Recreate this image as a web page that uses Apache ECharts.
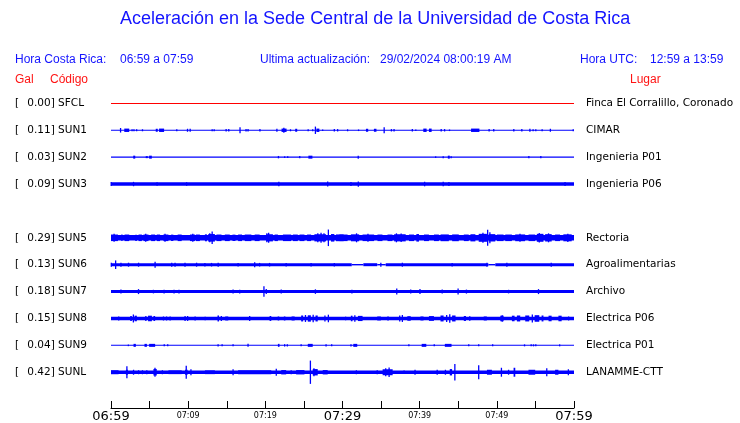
<!DOCTYPE html>
<html>
<head>
<meta charset="utf-8">
<script src="https://cdn.jsdelivr.net/npm/echarts@6/dist/echarts.min.js"></script>
<style>html,body{margin:0;padding:0;background:#fff}#c{width:740px;height:423px}</style>
</head>
<body>
<div id="c"></div>
<script>
// ---------------- data ----------------
const stations = ['SFCL','SUN1','SUN2','SUN3','SUN5','SUN6','SUN7','SUN8','SUN9','SUNL'];
const pga      = ['0.00','0.11','0.03','0.09','0.29','0.13','0.18','0.15','0.04','0.42'];
const places   = ['Finca El Corralillo, Coronado','CIMAR','Ingenieria P01','Ingenieria P06','Rectoria','Agroalimentarias','Archivo','Electrica P06','Electrica P01','LANAMME-CTT'];
const rowIndex = [0,1,2,3,5,6,7,8,9,10];
const timeLabels  = ['06:59','07:09','07:19','07:29','07:39','07:49','07:59'];
const majorLabels = ['06:59','07:29','07:59'];
// trace envelopes: [start minute, end minute, half amplitude (counts)]
const sfcl = [[0,60,0.5]];
const sun1 = [[0,60,0.6],[1.24,1.24,2.3],[1.72,2.36,1.7],[2.71,2.75,1],[2.95,3.0,1],[3.3,3.35,1],[4.08,4.08,1],[5.8,6.06,1.5],[6.23,6.88,1.7],[8.45,8.6,1],[9.88,9.95,1.5],[10.2,10.32,1.5],[13.11,13.11,1],[13.37,13.37,1],[14.92,14.92,1.2],[15.26,15.26,1.2],[16.72,16.72,3],[17.5,17.5,1.2],[17.76,17.76,1.2],[19.3,19.3,1.2],[21.5,21.5,1.5],[22.1,22.75,1.7],[22.4,22.4,2.5],[23.26,23.26,1],[23.87,24.13,1.5],[25.55,25.55,1],[26.14,26.14,1],[26.49,26.49,3.7],[26.62,27.0,1.7],[27.43,27.43,0.8],[28.94,28.94,1.2],[29.37,29.37,1.2],[30.66,30.66,1],[32.08,32.08,0.8],[33.04,33.33,1.5],[34.07,34.4,1.5],[35.4,35.4,3],[36.34,36.34,1.2],[36.68,36.68,1.2],[39.05,39.05,1.2],[39.5,39.5,0.8],[40.47,40.9,1.7],[41.2,41.55,1.7],[42.79,42.79,1.2],[43.23,43.23,1.2],[43.87,43.87,0.8],[46.66,47.74,1.7],[49.0,49.0,1.2],[49.6,49.6,1.2],[52.2,52.2,1.2],[53.24,53.24,1.2],[54.2,54.37,1.5],[54.7,54.7,1],[55.05,55.05,1],[55.87,55.87,1],[56.94,56.94,1.5],[59.9,59.9,1]];
const sun2 = [[0,60,0.6],[2.88,3.14,1.5],[4.5,4.77,1],[4.94,5.29,1.5],[21.7,21.7,1.2],[22.5,22.5,0.8],[22.9,22.9,0.8],[24.46,24.46,1.2],[25.58,26.1,1.5],[32.04,32.04,1.5],[42.07,42.07,0.8],[43.05,43.05,1],[43.65,43.9,1.5],[44.08,44.08,1],[54.15,54.15,1.2],[55.7,55.7,1.2]];
const sun3 = [[0,60,1.7],[0,0.05,2],[2.92,2.92,2.2],[5.97,5.97,1.8],[9.8,9.8,1.8],[21.75,21.75,2.3],[28.08,28.08,2.5],[31.1,31.1,2],[32.0,32.1,2.6],[40.64,40.64,2.3],[43.05,43.05,2.2],[43.79,43.79,2],[58.84,58.84,2]];
const sun5 = [[0,60,2.8],[0,0.9,3.3],[0.4,0.4,4],[1.33,1.5,3.3],[1.76,2.36,3.3],[3.14,3.35,3.2],[3.57,4.0,3.3],[4.21,4.86,3.3],[4.5,4.5,4],[5.2,5.72,3.3],[5.93,6.36,3.3],[6.79,7.44,3.3],[7.0,7.0,4],[7.78,8.08,3.2],[8.64,9.16,3.3],[10.23,10.88,3.3],[10.6,10.6,4],[11.0,11.52,3.3],[12.17,12.43,3.5],[12.6,13.46,3.8],[13.11,13.11,6.3],[12.8,12.8,4.5],[13.67,14.32,3.3],[14.75,15.39,3.3],[15.74,16.13,3.2],[16.47,16.98,3.3],[17.33,18.19,3.3],[18.62,19.26,3.3],[20.12,20.98,3.6],[20.43,20.43,5],[20.2,20.2,4.5],[21.2,21.63,3.3],[22.28,23.35,3.3],[23.57,24.21,3.3],[24.43,25.07,3.3],[25.41,25.93,3.3],[26.36,27.87,3.6],[27.22,27.22,5],[26.8,26.8,4.5],[27.6,27.6,4.5],[28.17,28.17,8.3],[28.51,28.94,3.8],[29.16,30.15,3.4],[29.59,30.66,3.3],[31.09,32.16,3.5],[31.82,31.82,4.5],[32.6,34.1,3.3],[33.3,33.3,4],[34.53,35.18,3.3],[35.83,36.47,3.3],[36.69,38.19,3.6],[36.99,36.99,4.5],[37.6,37.6,4.3],[38.62,39.27,3.3],[39.57,39.91,3.8],[40.56,41.2,3.3],[41.85,42.49,3.3],[42.71,43.78,3.4],[44.21,45.07,3.4],[45.72,46.36,3.3],[46.58,47.22,3.6],[47.65,48.72,4],[48.2,48.2,5],[48.81,48.81,8],[49.1,49.1,5.5],[48.94,49.8,3.7],[50.01,50.87,3.3],[51.09,51.95,3.3],[52.38,53.67,3.4],[53.0,53.0,4],[54.11,54.97,3.3],[55.18,56.04,4],[55.5,55.5,4.8],[56.26,57.11,3.7],[56.7,56.7,4.5],[57.55,58.19,3.3],[58.62,59.7,3.5],[59.2,59.2,4.2]];
const sun6 = [[0,31.2,1.5],[31.2,32.7,0.7],[32.7,34.5,1.5],[34.5,35.6,0.7],[35.6,48.9,1.5],[48.9,49.8,0.7],[49.8,60,1.5],[0.04,0.04,2],[0.6,0.6,4.3],[1.29,1.29,2],[2.27,2.27,2],[3.57,3.57,2],[5.63,5.8,3],[7.87,7.87,2],[8.3,8.3,2],[9.59,9.59,2],[11.09,11.09,2],[12.17,12.17,1.8],[13.03,13.03,1.8],[13.89,13.89,2],[16.47,16.47,1.8],[18.62,18.62,2.5],[19.26,19.26,1.8],[20.55,20.55,1.8],[22.7,22.7,1.8],[25.93,25.93,1.8],[28.94,28.94,1.8],[34.97,34.97,2],[37.76,37.76,2],[44.21,44.21,1.8],[48.72,48.72,2],[51.3,51.3,2],[57.05,57.05,2]];
const sun7 = [[0,60,1.5],[1.29,1.29,2],[3.48,3.65,2.5],[5.5,5.5,1.8],[6.88,6.88,1.8],[8.17,8.17,1.8],[8.81,8.81,1.8],[15.82,15.82,2],[16.68,16.68,1.8],[19.82,19.82,5.3],[20.12,20.12,2.5],[22.06,22.06,2],[26.49,26.49,2.3],[31.22,31.22,1.8],[37.03,37.03,3],[38.84,38.84,2],[40.04,40.04,2.5],[42.92,42.92,2],[44.98,44.98,3],[46.06,46.06,2],[51.52,51.52,1.8],[55.4,55.4,2.5]];
const sun8 = [[0,60,1.7],[1.0,1.0,2],[2.49,2.7,2.5],[2.9,2.9,4],[3.05,3.35,2.8],[4.43,4.6,2.5],[4.8,5.3,2.8],[5.5,5.72,2.5],[6.8,6.8,2],[7.2,7.2,2],[7.66,7.66,2],[9.6,9.6,2.5],[9.93,9.93,2.5],[10.9,10.9,2],[12.2,12.2,1.8],[13.8,14.0,3],[14.3,14.3,2.5],[14.8,15.2,2],[17.97,17.97,2.5],[20.55,20.77,2.5],[21.6,21.8,2],[22.4,22.6,2],[23.4,23.8,2],[24.64,24.9,3],[25.2,25.2,3.5],[25.5,25.9,3.2],[26.2,26.2,3.8],[26.5,26.79,3],[27.65,27.8,3],[28.17,28.17,3.8],[30.4,30.4,1.8],[31.08,31.3,2.8],[31.6,31.6,3.2],[32.0,32.6,2.6],[34.5,34.97,2],[35.8,36.0,2],[37.33,37.5,3],[37.76,37.76,3.5],[38.4,38.84,2.3],[40.1,40.5,2],[41.2,41.85,2.4],[42.7,43.1,3],[43.5,43.5,3.5],[43.9,43.9,4.3],[44.2,44.65,3],[45.72,46.0,2.5],[46.4,46.58,2.3],[48.3,48.7,2],[50.45,50.88,2.8],[50.7,50.7,3.3],[51.95,52.3,2.8],[52.6,53.03,3],[53.68,54.2,3],[54.6,54.6,4],[54.9,55.5,3.3],[55.8,56.04,3],[56.7,57.1,2.8],[57.98,58.4,2.8],[59.3,59.3,2]];
const sun9 = [[0,60,0.5],[2.25,2.25,0.8],[2.92,3.22,1.5],[4.34,4.65,1.5],[4.94,5.72,1.5],[6.9,6.9,1],[7.35,7.35,1],[13.88,13.88,1.2],[14.4,14.4,1],[15.82,15.82,1],[17.76,17.76,1.5],[21.63,21.84,1.5],[22.5,22.5,1.2],[22.85,22.85,1.2],[24.64,24.64,1],[25.5,26.14,1.5],[27.87,27.87,1.2],[28.6,28.6,1],[31.1,31.1,1.2],[31.4,31.91,1.5],[38.6,38.6,1],[40.26,40.86,1.5],[41.89,41.89,1],[43.26,44.13,1.5],[46.36,46.36,1],[47.65,47.65,1],[49.46,49.46,1],[53.59,53.59,1],[54.45,54.45,1],[54.75,54.75,1],[55.05,55.05,1],[58.14,58.14,1]];
const sunl = [[0,60,1.7],[0,0.98,2],[1.93,2.19,2.5],[2.06,2.06,6],[2.92,2.92,2.5],[3.57,3.57,2],[4.08,4.08,2],[4.64,4.64,2],[5.5,5.93,3.3],[5.7,5.7,4.5],[6.66,6.66,2],[7.44,9.16,1.9],[9.59,9.93,2.5],[9.75,9.75,6.5],[10.36,10.36,3],[12.17,13.46,1.9],[15.82,15.82,3],[16.47,20.77,1.9],[21.42,21.42,3.5],[22.06,22.7,2.2],[23.35,23.35,2],[23.99,25.07,2.2],[25.84,25.84,11.7],[26.14,26.79,3.2],[26.3,26.3,4],[27.44,28.08,2.2],[31.8,31.8,2],[34.5,34.5,2],[35.2,36.5,3],[36.04,36.04,4.7],[35.6,35.6,4],[37.98,37.98,1.8],[39.4,39.4,2.5],[42.27,42.27,2.5],[43.34,43.34,2.5],[43.9,44.2,3.2],[44.56,44.56,8.3],[47.65,47.65,7],[48.72,49.36,2.5],[50.53,50.66,4.5],[51.52,51.52,2.5],[52.17,52.39,4.5],[54.1,54.97,2.5],[56.47,56.47,4],[57.55,57.98,2.5],[59.27,59.27,3]];
const traces = [sfcl,sun1,sun2,sun3,sun5,sun6,sun7,sun8,sun9,sunl];
const traceColors = ['#ff0000','#0000ff','#0000ff','#0000ff','#0000ff','#0000ff','#0000ff','#0000ff','#0000ff','#0000ff'];
const COUNTS_PER_ROW = 27;

// ---------------- chart ----------------
const chart = echarts.init(document.getElementById('c'), null, {renderer:'canvas'});
const rowOf = {};
rowIndex.forEach((r,i)=>{ rowOf[r]=i; });

function leftLabel(v){
  if (Math.abs(v - Math.round(v)) > 1e-6) return '';
  const i = rowOf[Math.round(v)];
  if (i === undefined) return '';
  return '{br|[}{v|' + pga[i] + '] ' + stations[i] + '}';
}
function rightLabel(v){
  if (Math.abs(v - Math.round(v)) > 1e-6) return '';
  const i = rowOf[Math.round(v)];
  if (i === undefined) return '';
  return places[i];
}

const series = traces.map((tr, i) => ({
  type: 'custom',
  coordinateSystem: 'cartesian2d',
  silent: true,
  animation: false,
  encode: {x: [0,1], y: 2},
  data: tr,
  renderItem: function(params, api){
    const row = rowIndex[i];
    const a = api.value(2) / COUNTS_PER_ROW;
    const p0 = api.coord([api.value(0), row - a]);
    const p1 = api.coord([api.value(1), row + a]);
    let x = Math.min(p0[0], p1[0]);
    let w = Math.abs(p1[0] - p0[0]);
    if (w < 1.3) { x -= (1.3 - w)/2; w = 1.3; }
    const y = Math.min(p0[1], p1[1]);
    const h = Math.max(Math.abs(p1[1] - p0[1]), 1);
    return {type:'rect', shape:{x:x, y:y, width:w, height:h}, style:{fill: traceColors[i]}};
  }
}));

const blue = '#1414ff', red = '#ff1414';
const hdrFont = '12px "Liberation Sans", Arial, sans-serif';

chart.setOption({
  animation: false,
  backgroundColor: '#ffffff',
  grid: {left: 111, right: 166, top: 76.5, bottom: 13.5, containLabel: false},
  xAxis: {
    type: 'value', min: 0, max: 60, interval: 5,
    axisLine: {show: true, onZero: false, lineStyle: {color: '#000', width: 1}},
    axisTick: {show: true, inside: true, length: 7, lineStyle: {color: '#000'}},
    splitLine: {show: false},
    axisLabel: {
      margin: 2, verticalAlign: 'top', showMinLabel: true, showMaxLabel: true,
      formatter: function(v){
        if (v % 10 !== 0) return '';
        const lab = timeLabels[v/10];
        return majorLabels.indexOf(lab) >= 0 ? '{big|' + lab + '}' : '{small|' + lab + '}';
      },
      rich: {
        big: {fontSize: 13, fontFamily: 'DejaVu Sans', color: '#000'},
        small: {fontSize: 8, fontFamily: 'DejaVu Sans', color: '#000', padding: [2,0,0,0]}
      }
    }
  },
  yAxis: [{
    type: 'value', min: -1, max: 11.33, interval: 1, inverse: true, position: 'left',
    axisLine: {show: false}, axisTick: {show: false}, splitLine: {show: false},
    axisLabel: {
      margin: 96, align: 'left', showMaxLabel: false, showMinLabel: false,
      formatter: leftLabel,
      rich: {
        br: {width: 12.3, fontSize: 10.5, fontFamily: 'DejaVu Sans', color: '#000'},
        v: {fontSize: 10.5, fontFamily: 'DejaVu Sans', color: '#000'}
      }
    }
  },{
    type: 'value', min: -1, max: 11.33, interval: 1, inverse: true, position: 'right',
    axisLine: {show: false}, axisTick: {show: false}, splitLine: {show: false},
    axisLabel: {
      margin: 12, align: 'left', showMaxLabel: false, showMinLabel: false,
      formatter: rightLabel, fontSize: 10.5, fontFamily: 'DejaVu Sans', color: '#000'
    }
  }],
  graphic: [
    {type:'text', left: 120, top: 10, style:{text:'Aceleración en la Sede Central de la Universidad de Costa Rica', fill: blue, font:'18px "Liberation Sans", Arial, sans-serif'}},
    {type:'text', left: 15, top: 54, style:{text:'Hora Costa Rica:', fill: blue, font: hdrFont}},
    {type:'text', left: 120, top: 54, style:{text:'06:59 a 07:59', fill: blue, font: hdrFont}},
    {type:'text', left: 260, top: 54, style:{text:'Ultima actualización:', fill: blue, font: hdrFont}},
    {type:'text', left: 380, top: 54, style:{text:'29/02/2024 08:00:19 AM', fill: blue, font: hdrFont}},
    {type:'text', left: 580, top: 54, style:{text:'Hora UTC:', fill: blue, font: hdrFont}},
    {type:'text', left: 650, top: 54, style:{text:'12:59 a 13:59', fill: blue, font: hdrFont}},
    {type:'text', left: 15, top: 74, style:{text:'Gal', fill: red, font: hdrFont}},
    {type:'text', left: 50, top: 74, style:{text:'Código', fill: red, font: hdrFont}},
    {type:'text', left: 630, top: 74, style:{text:'Lugar', fill: red, font: hdrFont}}
  ],
  series: series
});
</script>
</body>
</html>
